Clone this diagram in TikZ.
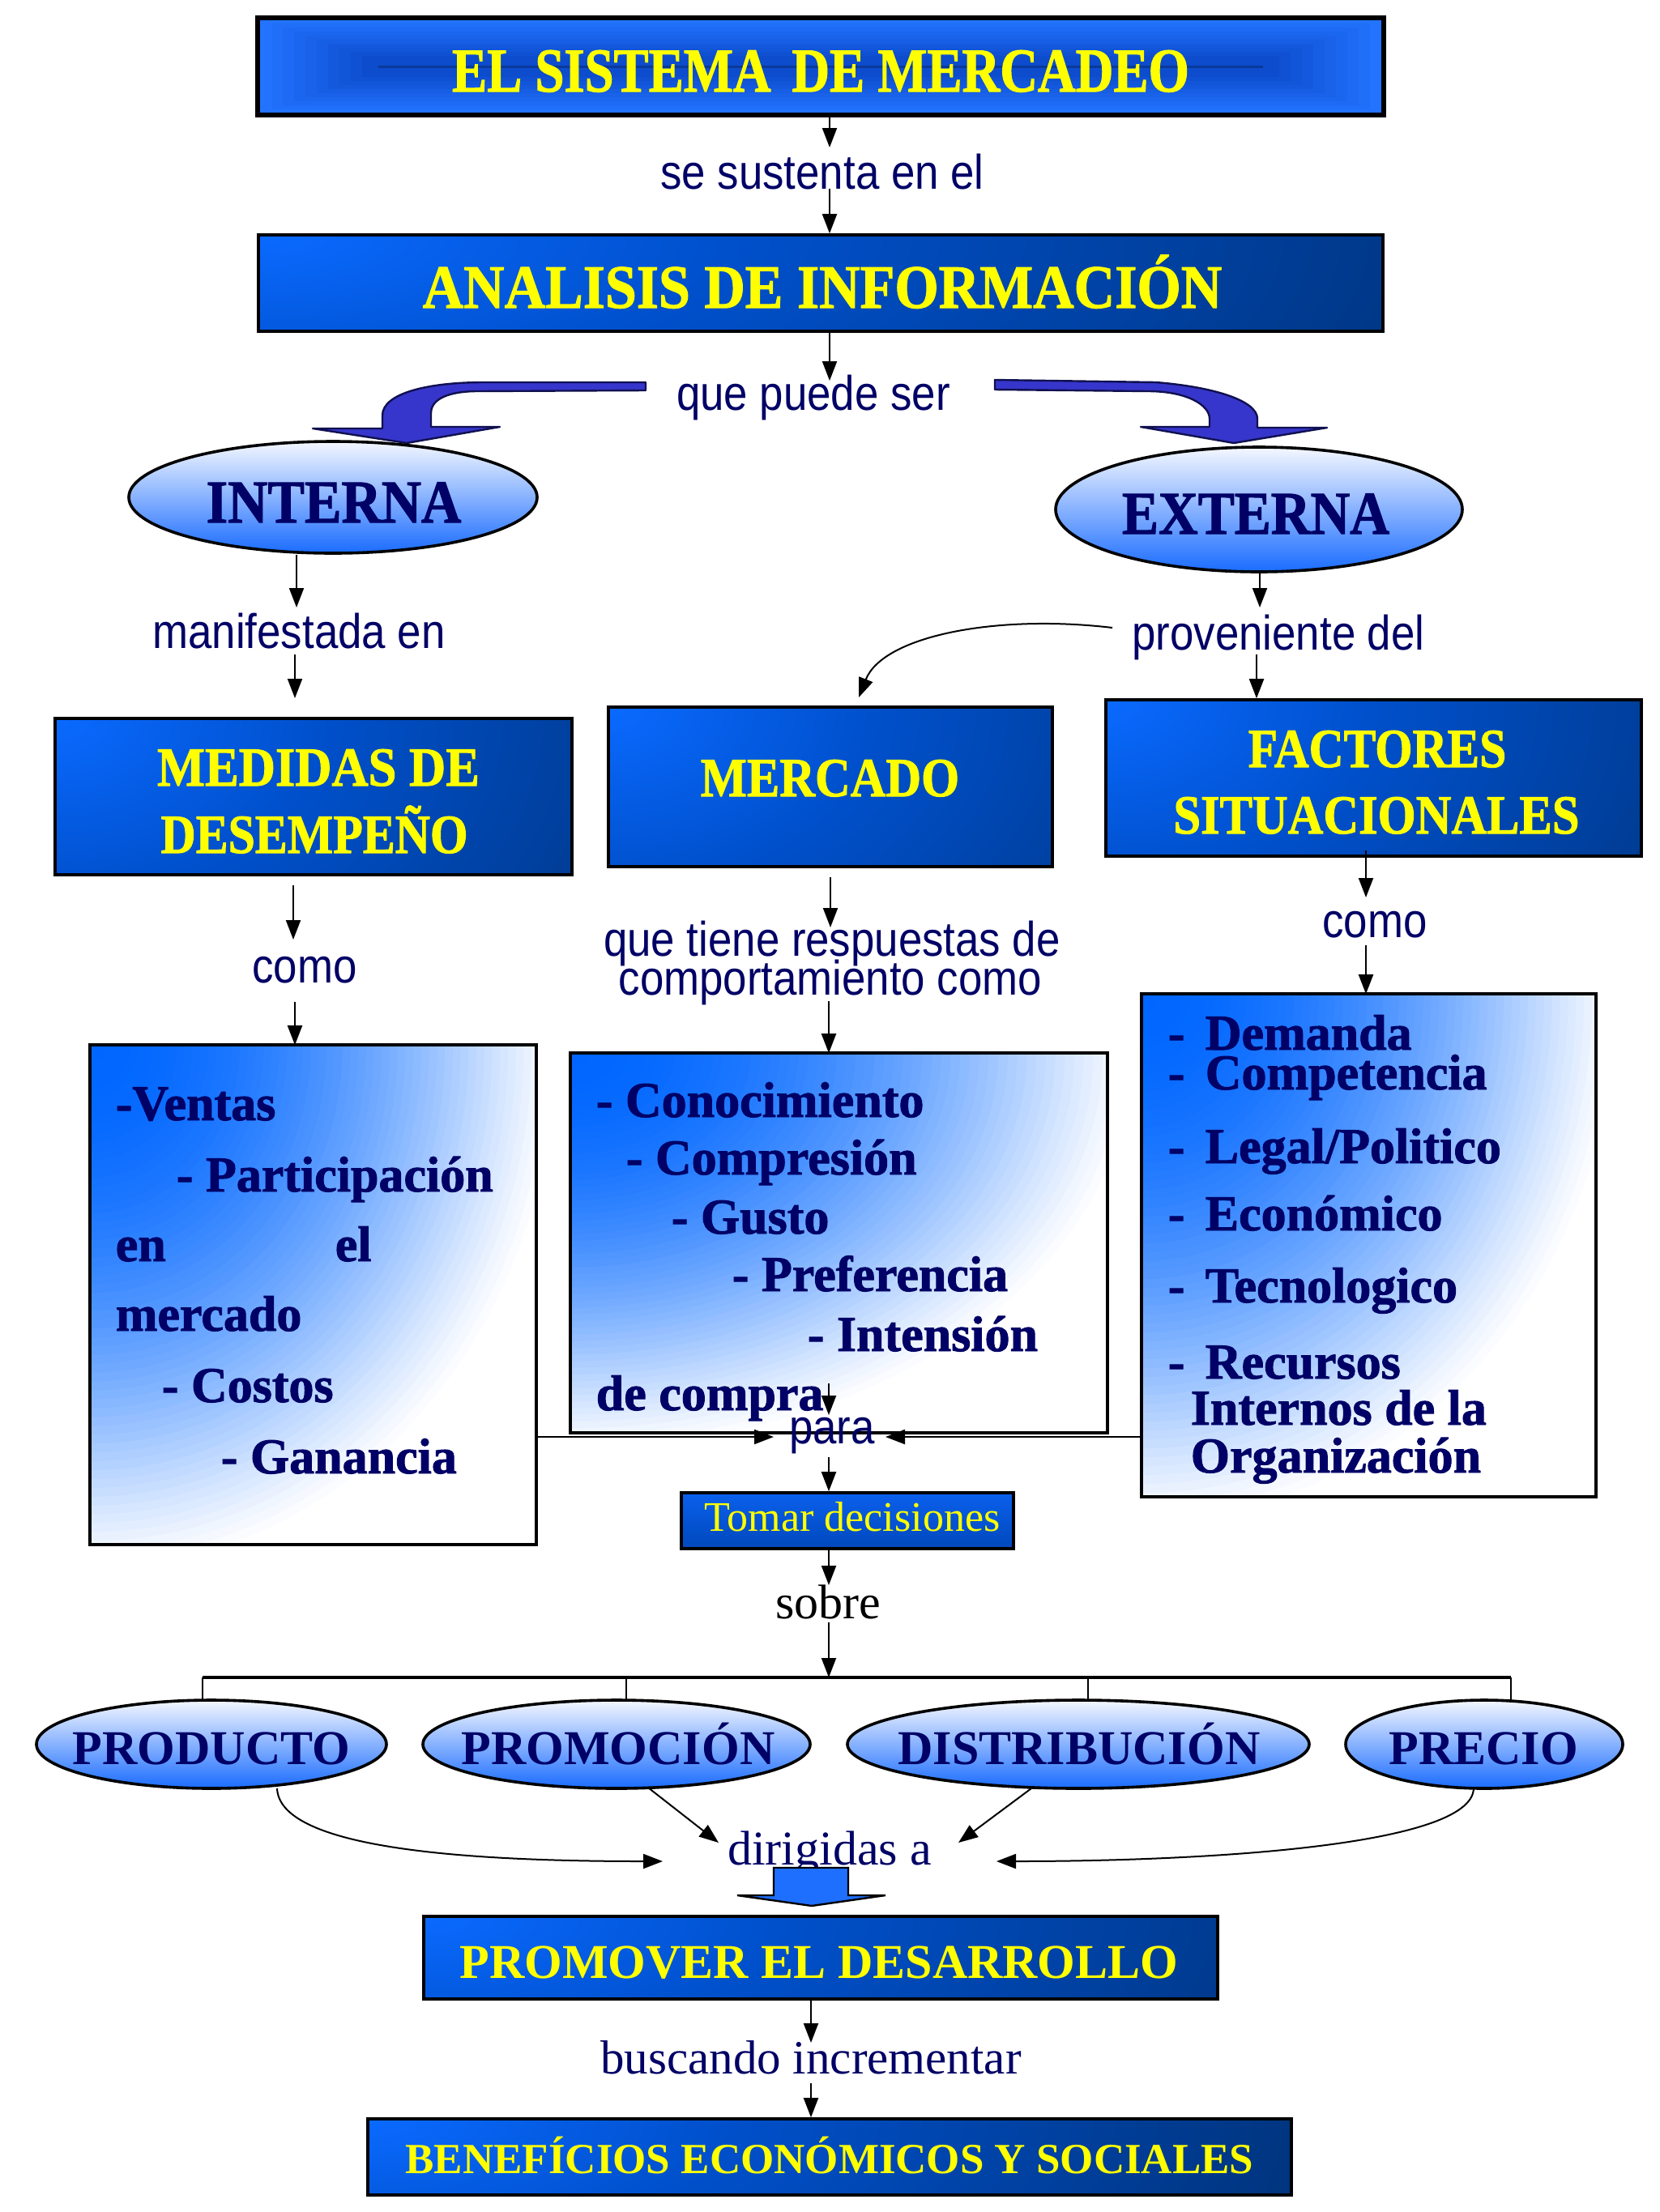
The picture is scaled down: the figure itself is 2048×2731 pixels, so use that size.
\documentclass[tikz,border=0pt]{standalone}
\usepackage{fontspec}
\usepackage{graphicx}
\setmainfont{Liberation Serif}
\newfontfamily\sansf{Liberation Sans}
\newfontfamily\heavy[FakeBold=1.5]{Liberation Serif Bold}
\usetikzlibrary{arrows.meta,shapes.geometric,calc}
\definecolor{navy}{HTML}{000066}
\definecolor{yel}{HTML}{FFFF00}
\definecolor{dA}{HTML}{0A6AFF}
\definecolor{dM}{HTML}{0050CC}
\definecolor{dB}{HTML}{00337A}
\definecolor{tA}{HTML}{2373FF}
\definecolor{tB}{HTML}{0C4CCC}
\definecolor{fA}{HTML}{0066FF}
\definecolor{eT}{HTML}{F4F7FF}
\definecolor{eB}{HTML}{1A6CFF}
\definecolor{vio}{HTML}{3636CC}
\definecolor{vioD}{HTML}{101050}
\definecolor{bArr}{HTML}{1F6FFF}
\definecolor{tmT}{HTML}{0A60EC}
\definecolor{tmB}{HTML}{0048BC}
\pgfdeclareradialshading{darkfade}{\pgfpoint{0bp}{0bp}}{color(0bp)=(dA); color(9bp)=(dM); color(25bp)=(dB); color(50bp)=(dB)}
\newcommand\HvT[3]{{\heavy\fontsize{#1}{#1}\selectfont\scalebox{#2}[1]{#3}}}
\newcommand\SnT[1]{{\sansf\fontsize{15pt}{15pt}\selectfont\scalebox{0.88}[1]{#1}}}
\newcommand\CornerFade[3]{%
  \begin{scope}
    \clip (#1.north west) rectangle (#1.south east);
    \fill[white] (#1.north west) rectangle (#1.south east);
    \foreach \k in {60,59,...,1}{%
      \pgfmathsetmacro\tt{\k/60}%
      \pgfmathsetmacro\pc{100*(1-\tt*\tt)^1.2}%
      \fill[fA!\pc!white] (#1.north west) ellipse [x radius=\tt*#2, y radius=\tt*#3];
    }
  \end{scope}
  \draw[line width=0.9pt] (#1.north west) rectangle (#1.south east);}
\begin{document}
\begin{tikzpicture}[x=0.25pt,y=-0.25pt,
  arr/.style={-{Triangle[length=6pt,width=4.5pt]},line width=0.5pt,black},
  darkbox/.style 2 args={draw=black,line width=0.9pt,inner sep=0,path picture={\shade[shading=darkfade] (path picture bounding box.north west) ellipse [x radius=#1,y radius=#2];}},
  listbox/.style={draw=black,line width=0.9pt,inner sep=0},
  oval/.style={ellipse,draw=black,line width=0.9pt,inner sep=0,top color=eT,bottom color=eB},
  lbl/.style={inner sep=0,anchor=base,text=navy},
  lst/.style={inner sep=0,anchor=base west,text=navy,font=\heavy\fontsize{15.5pt}{15.5pt}\selectfont},
  ytxt/.style={inner sep=0,anchor=base,text=yel},
  ovt/.style={inner sep=0,anchor=base,text=navy,font=\bfseries\fontsize{15pt}{15pt}\selectfont},
  bluearrow/.style={fill=vio,draw=vioD,line width=0.6pt,line join=round}
]
\useasboundingbox (0,0) rectangle (2048,2731);
\fill[white] (0,0) rectangle (2048,2731);

% ---------- title box
\node[draw=black,line width=0.9pt,fill=tA,minimum width=347pt,minimum height=29.5pt,inner sep=0] (top) at (1013,82) {};
\foreach \i in {1,...,9}{\pgfmathtruncatemacro\p{\i*11}
  \fill[tB!\p!tA] ($(top.north west)+(\i*14+4,\i*5+3)$) rectangle ($(top.south east)+(-\i*14-4,-\i*5-3)$);}
\fill[tB!75!black] ($(top.west)+(150,-1.5)$) rectangle ($(top.east)+(-150,1.5)$);
\draw[line width=0.9pt] (top.north west) rectangle (top.south east);
\node[ytxt] (topT) at (1013,113) {\HvT{19.25pt}{0.84}{EL SISTEMA\hspace{0.4em}DE MERCADEO}};

\node[lbl] (sse) at (1015,233) {\SnT{se sustenta en el}};
\node[darkbox={400pt}{130pt},minimum width=347pt,minimum height=29.75pt] (ana) at (1013,349.5) {};
\node[ytxt] (anaT) at (1015,380) {\HvT{19pt}{0.92}{ANALISIS DE INFORMACIÓN}};

\coordinate (axC) at (1024,0);
\coordinate (a1e) at (1024,182);
\coordinate (a2s) at (1024,233);
\coordinate (a3e) at (1024,470);
\draw[arr] (top.south -| axC) -- (a1e);
\draw[arr] (a2s) -- (ana.north -| axC);
\draw[arr] (ana.south -| axC) -- (a3e);

\node[lbl] (qps) at (1004,506) {\SnT{que puede ser}};

% ---------- blue curved arrows
\filldraw[bluearrow] (797,472) -- (597,472) .. controls (530,472) and (472,485) .. (472,513) -- (472,529) -- (386,529) -- (502,547) -- (617,527) -- (532,527) -- (532,510) .. controls (532,492) and (555,483) .. (590,483) -- (797,482) -- cycle;
\filldraw[bluearrow] (1228,469) -- (1427,472) .. controls (1500,478) and (1552,495) .. (1552,517) -- (1552,528) -- (1638,528) -- (1523,547) -- (1408,527) -- (1493,527) -- (1493,517) .. controls (1493,500) and (1465,483) .. (1417,483) -- (1228,481) -- cycle;

% ---------- INTERNA / EXTERNA
\node[oval,minimum width=126pt,minimum height=34.5pt] (int) at (411,614) {};
\node[lbl] (intT) at (412,645) {\HvT{18.75pt}{0.91}{INTERNA}};
\node[oval,minimum width=125.5pt,minimum height=38.5pt] (ext) at (1554,629) {};
\node[lbl] (extT) at (1550,659) {\HvT{18.75pt}{0.9}{EXTERNA}};

\node[lbl] (man) at (369,800) {\SnT{manifestada en}};
\node[lbl] (prov) at (1578,802) {\SnT{proveniente del}};

\coordinate (axL) at (366,0);
\coordinate (a4e) at (366,750);
\coordinate (a5s) at (364,808);
\coordinate (a5e) at (364,862);
\coordinate (axR) at (1555,0);
\coordinate (a6e) at (1555,750);
\coordinate (a7s) at (1551,808);
\coordinate (axF) at (1551,0);
\draw[arr] (int.south -| axL) -- (a4e);
\draw[arr] (a5s) -- (a5e);
\draw[arr] (ext.south -| axR) -- (a6e);

% ---------- second row boxes
\node[darkbox={225pt}{150pt},minimum width=159.5pt,minimum height=48.25pt] (med) at (387,983.5) {};
\node[ytxt] (medT1) at (393,970) {\HvT{17pt}{0.92}{MEDIDAS DE}};
\node[ytxt] (medT2) at (388,1053) {\HvT{17pt}{0.88}{DESEMPEÑO}};
\node[darkbox={225pt}{150pt},minimum width=137pt,minimum height=49.25pt] (mer) at (1025,971.5) {};
\node[ytxt] (merT) at (1024.5,983) {\HvT{17pt}{0.89}{MERCADO}};
\node[darkbox={225pt}{150pt},minimum width=165.25pt,minimum height=48.25pt] (fac) at (1695.5,960.5) {};
\node[ytxt] (facT1) at (1700,947) {\HvT{17pt}{0.875}{FACTORES}};
\node[ytxt] (facT2) at (1699,1029) {\HvT{17pt}{0.89}{SITUACIONALES}};

\draw[arr] (a7s) -- (fac.north -| axF);
\coordinate (a8s) at (1373,775);
\coordinate (a8e) at (1060,861);
\draw[arr] (a8s) .. controls (1230,758) and (1090,785) .. (a8e);

% ---------- connector labels
\node[lbl] (como1) at (376,1213) {\SnT{como}};
\node[lbl] (qt1) at (1027,1180) {\SnT{que tiene respuestas de}};
\node[lbl] (qt2) at (1025,1228) {\SnT{comportamiento como}};
\node[lbl] (como2) at (1697,1157) {\SnT{como}};

\coordinate (a9s) at (362,1093);
\coordinate (a9e) at (362,1160);
\coordinate (a10s) at (364,1237);
\coordinate (a11s) at (1025,1083);
\coordinate (a11e) at (1025,1145);
\coordinate (a12s) at (1023,1236);
\coordinate (a13s) at (1686,1050);
\coordinate (a13e) at (1686,1108);
\coordinate (a14s) at (1686,1167);
\draw[arr] (a9s) -- (a9e);
\draw[arr] (a11s) -- (a11e);
\draw[arr] (a13s) -- (a13e);

% ---------- list boxes
\node[listbox,minimum width=136.75pt,minimum height=153.25pt] (l1) at (386.5,1598.5) {};
\node[listbox,minimum width=164.75pt,minimum height=116.25pt] (l2) at (1035.5,1534.5) {};
\node[listbox,minimum width=139.25pt,minimum height=154.25pt] (l3) at (1689.5,1537.5) {};
\CornerFade{l1}{146pt}{164pt}
\CornerFade{l2}{176pt}{124pt}
\CornerFade{l3}{149pt}{165pt}
\draw[arr] (a10s) -- (a10s |- l1.north);
\draw[arr] (a12s) -- (a12s |- l2.north);
\draw[arr] (a14s) -- (a14s |- l3.north);

\node[lst] (v1) at (142,1383) {-Ventas};
\node[lst] (v2) at (217,1471) {- Participación};
\node[lst] (v3a) at (142,1557) {en};
\node[lst] (v3b) at (413,1557) {el};
\node[lst] (v4) at (142,1643) {mercado};
\node[lst] (v5) at (199,1731) {- Costos};
\node[lst] (v6) at (272,1819) {- Ganancia};

\node[lst] (m1) at (735,1379) {- Conocimiento};
\node[lst] (m2) at (772,1450) {- Compresión};
\node[lst] (m3) at (828,1523) {- Gusto};
\node[lst] (m4) at (903,1594) {- Preferencia};
\node[lst] (m5) at (996,1668) {- Intensión};
\node[lst] (m6) at (735,1741) {de compra};

\node[lst] (r1) at (1441,1296) {\makebox[11.5pt][l]{-}Demanda};
\node[lst] (r2) at (1441,1345) {\makebox[11.5pt][l]{-}Competencia};
\node[lst] (r3) at (1441,1436) {\makebox[11.5pt][l]{-}Legal/Politico};
\node[lst] (r4) at (1441,1519) {\makebox[11.5pt][l]{-}Económico};
\node[lst] (r5) at (1441,1608) {\makebox[11.5pt][l]{-}Tecnologico};
\node[lst] (r6) at (1441,1702) {\makebox[11.5pt][l]{-}Recursos};
\node[lst] (r7) at (1469,1759) {Internos de la};
\node[lst] (r8) at (1469,1818) {Organización};

% ---------- para / tomar decisiones
\node[lbl] (para) at (1027,1782) {\SnT{para}};
\coordinate (a15s) at (1023,1708);
\coordinate (a15e) at (1023,1747);
\draw[arr] (a15s) -- (a15e);
\coordinate (a16e) at (955,1774);
\coordinate (a17e) at (1093,1774);
\draw[arr] (l1.east |- a16e) -- (a16e);
\draw[arr] (l3.west |- a17e) -- (a17e);

\node[draw=black,line width=0.9pt,inner sep=0,top color=tmT,bottom color=tmB,minimum width=102.5pt,minimum height=17.25pt] (tom) at (1046,1877.5) {};
\node[ytxt] (tomT) at (1052,1890) {\fontsize{13pt}{13pt}\selectfont Tomar decisiones};
\coordinate (a18s) at (1023,1799);
\draw[arr] (a18s) -- (a18s |- tom.north);

\node[inner sep=0,anchor=base] (sob) at (1022,1998) {\fontsize{15pt}{15pt}\selectfont sobre};
\coordinate (a19s) at (1023,1912);
\coordinate (a19e) at (1023,1957);
\coordinate (a20s) at (1023,2003);
\draw[arr] (a19s) -- (a19e);

% ---------- bar and four ovals
\coordinate (barL) at (250,2071);
\coordinate (barR) at (1865,2071);
\draw[line width=0.8pt] (barL) -- (barR);
\draw[arr] (a20s) -- (a20s |- barL);

\node[oval,minimum width=108pt,minimum height=27.25pt] (e1) at (261,2153.5) {};
\node[oval,minimum width=119.5pt,minimum height=27.25pt] (e2) at (761,2153.5) {};
\node[oval,minimum width=142.5pt,minimum height=27.25pt] (e3) at (1331,2153.5) {};
\node[oval,minimum width=85.5pt,minimum height=27.25pt] (e4) at (1832,2153.5) {};
\node[ovt] (e1T) at (261,2178) {PRODUCTO};
\node[ovt] (e2T) at (763,2178) {PROMOCIÓN};
\node[ovt] (e3T) at (1332,2178) {DISTRIBUCIÓN};
\node[ovt] (e4T) at (1831,2178) {PRECIO};

\coordinate (t2) at (773,2071);
\coordinate (t3) at (1343,2071);
\draw[line width=0.5pt] (barL) -- (barL |- 0,2099);
\draw[line width=0.5pt] (t2) -- (t2 |- 0,2100);
\draw[line width=0.5pt] (t3) -- (t3 |- 0,2100);
\draw[line width=0.5pt] (barR) -- (barR |- 0,2102);

\node[lbl] (dir) at (1024,2302) {\fontsize{15pt}{15pt}\selectfont dirigidas a};
\coordinate (p1s) at (342,2208);
\coordinate (p1e) at (818,2298);
\coordinate (p2s) at (800,2207);
\coordinate (p2e) at (887,2275);
\coordinate (p3s) at (1273,2208);
\coordinate (p3e) at (1183,2275);
\coordinate (p4s) at (1819,2208);
\coordinate (p4e) at (1230,2298);
\draw[arr] (p1s) .. controls (345,2280) and (560,2298) .. (p1e);
\draw[arr] (p2s) -- (p2e);
\draw[arr] (p3s) -- (p3e);
\draw[arr] (p4s) .. controls (1817,2280) and (1480,2298) .. (p4e);

% ---------- block arrow
\filldraw[fill=bArr,draw=black,line width=0.6pt] (955,2306) -- (1047,2306) -- (1047,2340) -- (1093,2340) -- (1002,2353) -- (910,2340) -- (955,2340) -- cycle;

% ---------- bottom boxes
\node[darkbox={300pt}{115pt},minimum width=245pt,minimum height=25.5pt] (pro) at (1013,2417) {};
\node[ytxt] (proT) at (1011,2442) {\bfseries\fontsize{15pt}{15pt}\selectfont PROMOVER EL DESARROLLO};
\node[lbl] (bus) at (1001,2560) {\fontsize{14.75pt}{14.75pt}\selectfont buscando incrementar};
\node[darkbox={300pt}{115pt},minimum width=285pt,minimum height=23.5pt] (ben) at (1024,2663) {};
\node[ytxt] (benT) at (1024,2683) {\bfseries\fontsize{13.25pt}{13.25pt}\selectfont BENEFÍCIOS ECONÓMICOS Y SOCIALES};
\coordinate (a25s) at (1001,2468);
\coordinate (a25e) at (1001,2522);
\coordinate (a26s) at (1001,2572);
\draw[arr] (a25s) -- (a25e);
\draw[arr] (a26s) -- (a26s |- ben.north);
\end{tikzpicture}
\end{document}
